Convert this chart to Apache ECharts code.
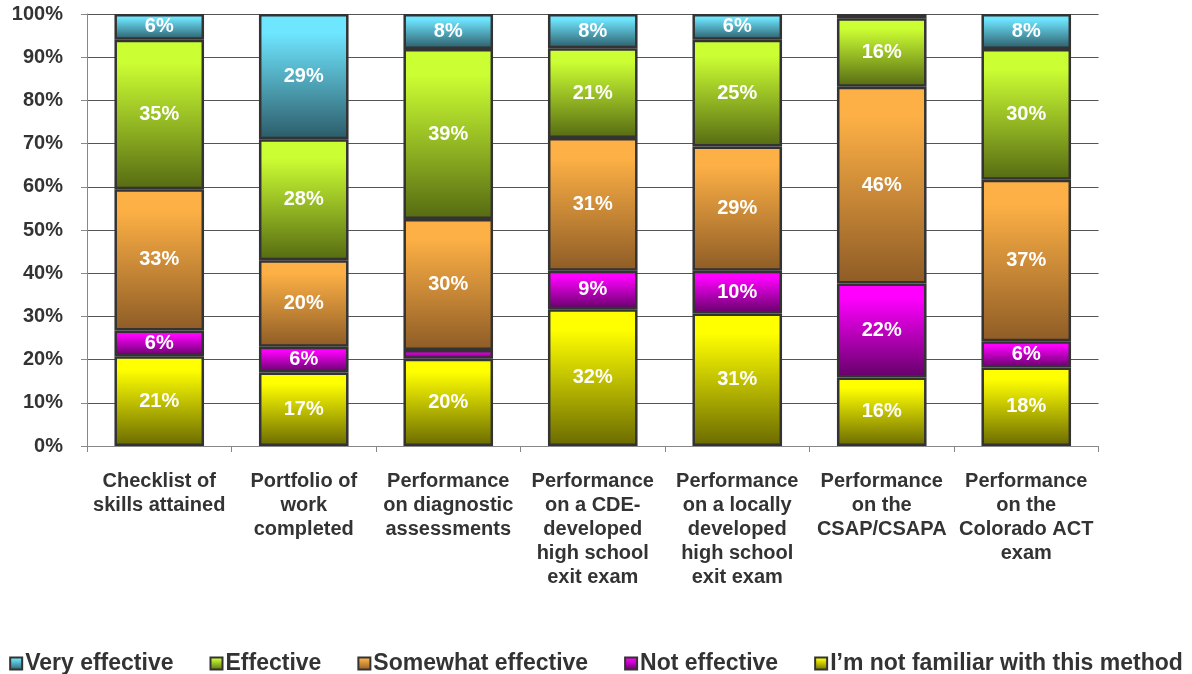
<!DOCTYPE html>
<html>
<head>
<meta charset="utf-8">
<script src="https://cdn.jsdelivr.net/npm/echarts@6/dist/echarts.min.js"></script>
<style>
html,body{margin:0;padding:0;background:#fff;}
#chart{width:1192px;height:674px;}
</style>
</head>
<body>
<div id="chart"></div>
<script>
const categories = [
  "Checklist of\nskills attained",
  "Portfolio of\nwork\ncompleted",
  "Performance\non diagnostic\nassessments",
  "Performance\non a CDE-\ndeveloped\nhigh school\nexit exam",
  "Performance\non a locally\ndeveloped\nhigh school\nexit exam",
  "Performance\non the\nCSAP/CSAPA",
  "Performance\non the\nColorado ACT\nexam"
];
const seriesNames = ["I\u2019m not familiar with this method", "Not effective", "Somewhat effective", "Effective", "Very effective"];
const notFamiliar   = [21, 17, 20, 32, 31, 16, 18];
const notEffective  = [6, 6, 2, 9, 10, 22, 6];
const somewhat      = [33, 20, 30, 31, 29, 46, 37];
const effective     = [35, 28, 39, 21, 25, 16, 30];
const veryEffective = [6, 29, 8, 8, 6, 1, 8];
const yTicks = [0, 10, 20, 30, 40, 50, 60, 70, 80, 90, 100];
const legendOrder = ["Very effective", "Effective", "Somewhat effective", "Not effective", "I\u2019m not familiar with this method"];

const raw = [notFamiliar, notEffective, somewhat, effective, veryEffective];
const gradients = [
  ['#FFFF00', '#6A6A00'],
  ['#FF00FF', '#640068'],
  ['#FDB045', '#8E5C26'],
  ['#CCFF33', '#566A12'],
  ['#6EE6FF', '#2C5B68']
];
const totals = categories.map((c, i) => raw.reduce((s, arr) => s + arr[i], 0));

function grad(c) {
  return {type: 'linear', x: 0, y: 0, x2: 0, y2: 1,
    colorStops: [{offset: 0, color: c[0]}, {offset: 0.15, color: c[0]}, {offset: 1, color: c[1]}]};
}

const series = raw.map((arr, si) => ({
  name: seriesNames[si],
  type: 'bar',
  stack: 'total',
  barWidth: '62%',
  data: arr.map((v, i) => ({value: v / totals[i] * 100, raw: v})),
  itemStyle: {color: grad(gradients[si]), borderColor: '#333', borderWidth: 2.5},
  label: {
    show: true,
    position: 'inside',
    color: '#fff',
    fontWeight: 'bold',
    fontSize: 20,
    fontFamily: 'Liberation Sans, Arial, sans-serif',
    formatter: p => p.data.raw >= 5 ? p.data.raw + '%' : ''
  },
  emphasis: {disabled: true}
}));

const chart = echarts.init(document.getElementById('chart'));
chart.setOption({
  animation: false,
  textStyle: {fontFamily: 'Liberation Sans, Arial, sans-serif'},
  grid: {left: 87, right: 93.5, top: 14, bottom: 228, containLabel: false},
  xAxis: {
    type: 'category',
    data: categories,
    axisLine: {lineStyle: {color: '#888', width: 1}},
    axisTick: {show: true, length: 6, lineStyle: {color: '#888'}},
    axisLabel: {
      interval: 0, margin: 23, color: '#333', fontWeight: 'bold', fontSize: 20,
      lineHeight: 24, align: 'center'
    }
  },
  yAxis: {
    type: 'value',
    min: yTicks[0], max: yTicks[yTicks.length - 1], interval: 10,
    axisLine: {show: true, lineStyle: {color: '#888'}},
    axisTick: {show: true, length: 6, lineStyle: {color: '#888'}},
    splitLine: {lineStyle: {color: '#555', width: 1}},
    axisLabel: {formatter: '{value}%', color: '#333', fontWeight: 'bold', fontSize: 20, margin: 24}
  },
  legend: {
    data: legendOrder,
    top: 647,
    left: 'center',
    itemWidth: 12,
    itemHeight: 12,
    itemGap: 36,
    icon: 'rect',
    textStyle: {color: '#333', fontWeight: 'bold', fontSize: 23, padding: [0, 0, 0, -2]}
  },
  series: series
});
</script>
</body>
</html>
